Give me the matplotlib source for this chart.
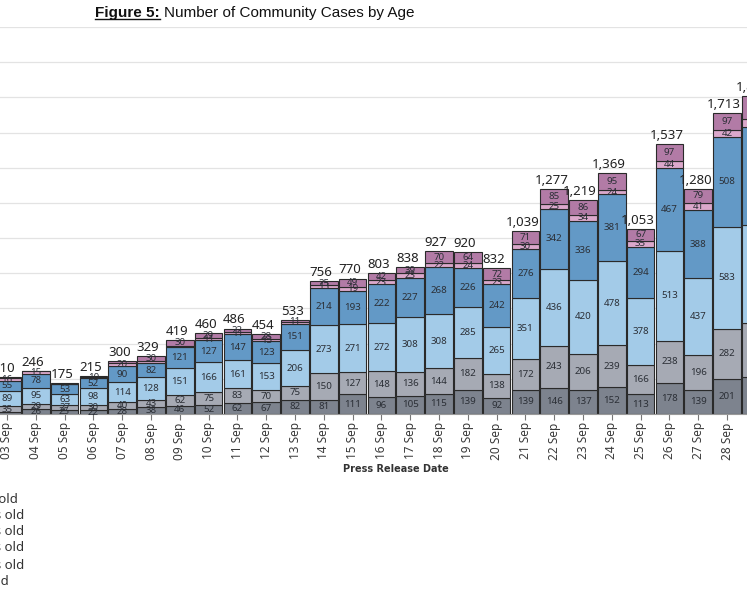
import matplotlib.pyplot as plt
import numpy as np
from matplotlib.lines import Line2D

# press release dates (03 Sep .. 29 Sep)
dates = ["03 Sep", "04 Sep", "05 Sep", "06 Sep", "07 Sep", "08 Sep", "09 Sep",
         "10 Sep", "11 Sep", "12 Sep", "13 Sep", "14 Sep", "15 Sep", "16 Sep",
         "17 Sep", "18 Sep", "19 Sep", "20 Sep", "21 Sep", "22 Sep", "23 Sep",
         "24 Sep", "25 Sep", "26 Sep", "27 Sep", "28 Sep", "29 Sep"]

# stacked from the bottom up
age_0_11 = [9, 26, 25, 22, 28, 38, 46, 52, 62, 67, 82, 81, 111, 96,
            105, 115, 139, 92, 139, 146, 137, 152, 113, 178, 139, 201, 210]
age_12_19 = [35, 29, 27, 30, 40, 43, 62, 75, 83, 70, 75, 150, 127, 148,
             136, 144, 182, 138, 172, 243, 206, 239, 166, 238, 196, 282, 305]
age_20_39 = [89, 95, 63, 98, 114, 128, 151, 166, 161, 153, 206, 273, 271, 272,
             308, 308, 285, 265, 351, 436, 420, 478, 378, 513, 437, 583, 560]
age_40_59 = [55, 78, 53, 52, 90, 82, 121, 127, 147, 123, 151, 214, 193, 222,
             227, 268, 226, 242, 276, 342, 336, 381, 294, 467, 388, 508, 555]
age_60_69 = [16, 15, 5, 10, 20, 8, 9, 11, 11, 13, 8, 13, 19, 23,
             23, 22, 24, 23, 30, 25, 34, 24, 35, 44, 41, 42, 50]
age_70_up = [6, 3, 2, 3, 8, 30, 30, 29, 22, 28, 11, 25, 49, 42,
             39, 70, 64, 72, 71, 85, 86, 95, 67, 97, 79, 97, 130]

series = [age_0_11, age_12_19, age_20_39, age_40_59, age_60_69, age_70_up]
labels = ["0-11 years old", "12-19 years old", "20-39 years old",
          "40-59 years old", "60-69 years old", "70 years old"]
colors = ["#7d838e", "#a6aab4", "#a3cbe8", "#6399c6", "#dba8cb", "#b27ba6"]

fig = plt.figure(figsize=(7.47, 5.98), dpi=100)
ax = fig.add_axes([0, 0.3077, 1, 0.647])

x = np.arange(len(dates))
bottom = np.zeros(len(dates))
for vals, col in zip(series, colors):
    vals = np.array(vals)
    ax.bar(x, vals, 0.96, bottom=bottom, color=col, edgecolor="#2a2a2a",
           linewidth=0.8, zorder=2)
    for xi, v, b in zip(x, vals, bottom):
        if v >= 10:
            ax.text(xi, b + v / 2, str(v), ha="center", va="center",
                    fontsize=7, color="#2b2f36", family="Noto Sans", zorder=3)
    bottom += vals

for xi, tot in zip(x, bottom):
    ax.text(xi - 0.1, tot + 12, f"{int(tot):,}", ha="center", va="bottom",
            fontsize=9.5, color="#222222", family="Noto Sans", zorder=3)

ax.set_xticks(x)
ax.set_xticklabels(dates, rotation=90, fontsize=8.5, color="#3a3a3a",
                   family="Noto Sans")
ax.tick_params(axis="x", length=4, color="#777777", pad=2)
ax.set_xlim(-0.243, 25.694)
ax.set_ylim(0, 2200)
ax.set_yticks(np.arange(0, 2201, 200))
ax.yaxis.grid(True, color="#e3e3e3", linewidth=0.9, zorder=0)
ax.set_axisbelow(True)
ax.tick_params(axis="y", left=False, labelleft=False)
for s in ["top", "left", "right"]:
    ax.spines[s].set_visible(False)
ax.spines["bottom"].set_color("#999999")

fig.text(396 / 747, 1 - 469 / 598, "Press Release Date", ha="center",
         va="center", fontsize=7, fontweight="bold", color="#333333")

# title: bold underlined prefix + normal text
fam = ["Liberation Sans Narrow", "Liberation Sans", "DejaVu Sans"]
t1 = fig.text(95 / 747, 1 - 13 / 598, "Figure 5:", ha="left", va="center",
              fontsize=11, fontweight="bold", family=fam, color="#111111")
r = fig.canvas.get_renderer()
bb = t1.get_window_extent(r)
fig.text((bb.x1 + 4) / 747, 1 - 13 / 598, "Number of Community Cases by Age",
         ha="left", va="center", fontsize=11, family=fam, color="#111111")
fig.add_artist(Line2D([bb.x0 / 747, bb.x1 / 747],
                      [(bb.y0 + 1) / 598, (bb.y0 + 1) / 598],
                      color="#111111", linewidth=1.0))

# legend (cut off at the left edge of the image)
leg_y = [499, 516, 532, 548, 565, 581]
leg_end = [18, 24, 24, 24, 24, 9]
for lab, yy, xe in zip(labels[::-1], leg_y, leg_end):
    fig.text(xe / 747, 1 - yy / 598, lab, ha="right", va="center",
             fontsize=9.5, color="#333333", family="Noto Sans")

fig.savefig("out.png", dpi=100, facecolor="white")
